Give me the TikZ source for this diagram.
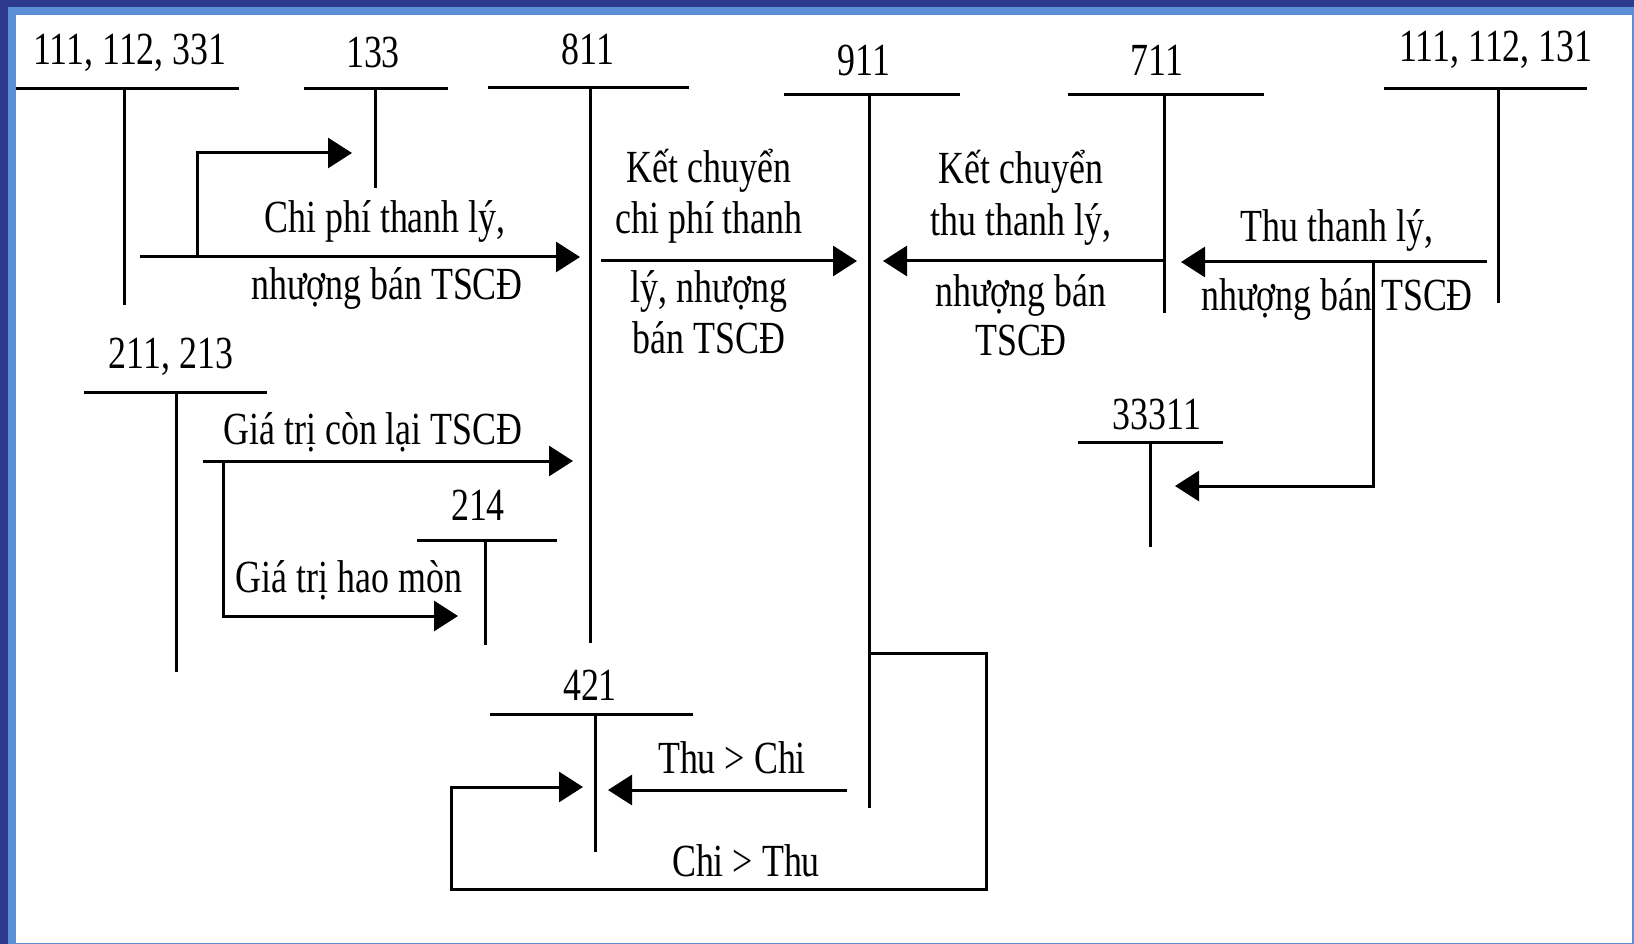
\documentclass[tikz,border=0pt]{standalone}
\usepackage{fontspec}
\setmainfont[FakeStretch=0.78]{Liberation Serif}
\usetikzlibrary{arrows.meta}
\definecolor{bdark}{HTML}{2B3A8A}
\definecolor{blight}{HTML}{5B8FD6}
\begin{document}
\begin{tikzpicture}[x=1pt,y=-1pt,
  acc/.style={line width=3pt},
  conn/.style={line width=3pt},
  arr/.style={conn,-{Triangle[length=24pt,width=30pt]}},
  lbl/.style={inner sep=0pt,anchor=base,font=\fontsize{46pt}{52pt}\selectfont},
]
\useasboundingbox (0,0) rectangle (1634,944);
% frame
\fill[bdark] (0,0) rectangle (1634,944);
\fill[blight] (8,7) rectangle (1634,944);
\fill[white] (16,15) rectangle (1632,943);

% ---- T-accounts: coordinates ----
\coordinate (A1l) at (16,89);   \coordinate (A1r) at (239,89);  \coordinate (A1t) at (124,89);  \coordinate (A1b) at (124,305);
\coordinate (A2l) at (304,89);  \coordinate (A2r) at (448,89);  \coordinate (A2t) at (375,89);  \coordinate (A2b) at (375,188);
\coordinate (A3l) at (488,88);  \coordinate (A3r) at (689,88);  \coordinate (A3t) at (590,88);  \coordinate (A3b) at (590,643);
\coordinate (A4l) at (784,95);  \coordinate (A4r) at (960,95);  \coordinate (A4t) at (869,95);  \coordinate (A4b) at (869,808);
\coordinate (A5l) at (1068,95); \coordinate (A5r) at (1264,95); \coordinate (A5t) at (1164,95); \coordinate (A5b) at (1164,313);
\coordinate (A6l) at (1384,89); \coordinate (A6r) at (1587,89); \coordinate (A6t) at (1498,89); \coordinate (A6b) at (1498,303);
\coordinate (A7l) at (84,392);  \coordinate (A7r) at (267,392); \coordinate (A7t) at (176,392); \coordinate (A7b) at (176,672);
\coordinate (A8l) at (417,540); \coordinate (A8r) at (557,540); \coordinate (A8t) at (485,540); \coordinate (A8b) at (485,645);
\coordinate (A9l) at (1078,442);\coordinate (A9r) at (1223,442);\coordinate (A9t) at (1150,442);\coordinate (A9b) at (1150,547);
\coordinate (A10l) at (490,714);\coordinate (A10r) at (693,714);\coordinate (A10t) at (595,714);\coordinate (A10b) at (595,852);

\foreach \a in {A1,A2,A3,A4,A5,A6,A7,A8,A9,A10}{
  \draw[acc] (\a l) -- (\a r);
  \draw[acc] (\a t) -- (\a b);
}

% ---- account labels ----
\node[lbl] (n1)  at (130,65)  {111, 112, 331};
\node[lbl] (n2)  at (373,68)  {133};
\node[lbl] (n3)  at (588,65)  {811};
\node[lbl] (n4)  at (864,76)  {911};
\node[lbl] (n5)  at (1157,76) {711};
\node[lbl] (n6)  at (1496,62) {111, 112, 131};
\node[lbl] (n7)  at (171,368) {211, 213};
\node[lbl] (n8)  at (478,520) {214};
\node[lbl] (n9)  at (1157,429){33311};
\node[lbl] (n10) at (590,700) {421};

% ---- connector points ----
\coordinate (c1s) at (140,257); \coordinate (c1e) at (580,257);
\coordinate (c1k) at (197,257); \coordinate (c1u) at (197,153); \coordinate (c1t) at (352,153);
\coordinate (c2s) at (203,461); \coordinate (c2e) at (573,461);
\coordinate (c2k) at (223,461); \coordinate (c2d) at (223,616); \coordinate (c2t) at (458,616);
\coordinate (c3s) at (601,261); \coordinate (c3e) at (857,261);
\coordinate (c4s) at (1164,261);\coordinate (c4e) at (883,261);
\coordinate (c5s) at (1487,262);\coordinate (c5e) at (1181,262);
\coordinate (c5k) at (1373,262);\coordinate (c5d) at (1373,486);\coordinate (c5t) at (1175,486);
\coordinate (c6s) at (847,790); \coordinate (c6e) at (608,790);
\coordinate (c7s) at (869,653); \coordinate (c7a) at (986,653); \coordinate (c7b) at (986,889);
\coordinate (c7c) at (451,889); \coordinate (c7d) at (451,787); \coordinate (c7e) at (583,787);

\draw[arr] (c1s) -- (c1e);
\draw[arr] (c1k) -- (c1u) -- (c1t);
\draw[arr] (c2s) -- (c2e);
\draw[arr] (c2k) -- (c2d) -- (c2t);
\draw[arr] (c3s) -- (c3e);
\draw[arr] (c4s) -- (c4e);
\draw[arr] (c5s) -- (c5e);
\draw[arr] (c5k) -- (c5d) -- (c5t);
\draw[arr] (c6s) -- (c6e);
\draw[arr] (c7s) -- (c7a) -- (c7b) -- (c7c) -- (c7d) -- (c7e);

% ---- connector labels ----
\node[lbl] (t1a) at (385,233) {Chi phí thanh lý,};
\node[lbl] (t1b) at (387,300) {nhượng bán TSCĐ};
\node[lbl] (t2)  at (373,444) {Giá trị còn lại TSCĐ};
\node[lbl] (t3)  at (349,592) {Giá trị hao mòn};
\node[lbl] (t4a) at (709,183) {Kết chuyển};
\node[lbl] (t4b) at (709,234) {chi phí thanh};
\node[lbl] (t4c) at (709,302) {lý, nhượng};
\node[lbl] (t4d) at (709,353) {bán TSCĐ};
\node[lbl] (t5a) at (1021,184) {Kết chuyển};
\node[lbl] (t5b) at (1021,236) {thu thanh lý,};
\node[lbl] (t5c) at (1021,306) {nhượng bán};
\node[lbl] (t5d) at (1021,355) {TSCĐ};
\node[lbl] (t6a) at (1337,242) {Thu thanh lý,};
\node[lbl] (t6b) at (1337,310) {nhượng bán TSCĐ};
\node[lbl] (t7)  at (732,773) {Thu > Chi};
\node[lbl] (t8)  at (746,876) {Chi > Thu};
\end{tikzpicture}
\end{document}
